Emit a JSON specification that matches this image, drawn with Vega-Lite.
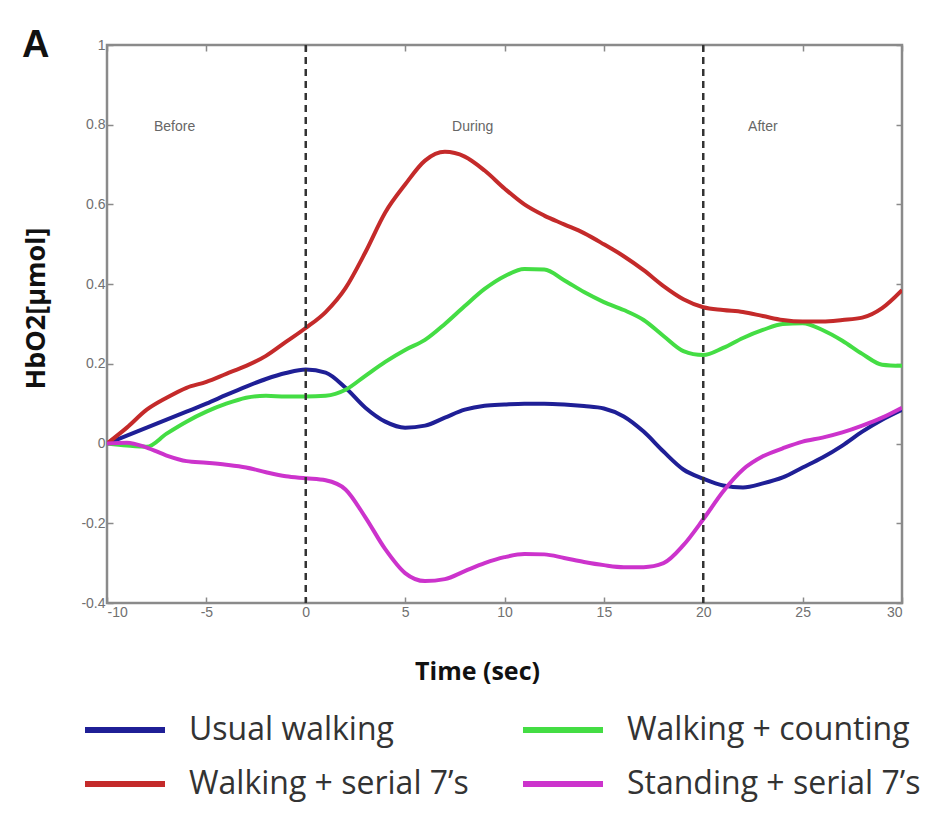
{
  "$schema": "https://vega.github.io/schema/vega-lite/v6.json",
  "width": 795,
  "height": 558,
  "autosize": {"type": "none"},
  "padding": {"left": 107, "top": 45, "right": 28, "bottom": 214},
  "background": "white",
  "title": {"text": "A", "anchor": "start", "frame": "group", "fontSize": 38, "fontWeight": "bold", "font": "Liberation Sans", "color": "#111", "baseline": "alphabetic", "offset": 0, "dx": -85, "dy": 57},
  "config": {
    "view": {"stroke": "#8a8a8a", "strokeWidth": 2.5},
    "axis": {"grid": false, "domain": false, "tickColor": "#8a8a8a", "tickWidth": 1.5, "tickSize": -6, "labelFont": "Liberation Sans", "labelFontSize": 14, "labelColor": "#707070", "titleFont": "Open Sans", "titleFontWeight": "bold", "titleColor": "#111", "labelExpr": "replace(format(datum.value, '~g'), '−', '-')"}
  },
  "datasets": {
    "curves": [
      {"t": -10, "v": 0, "s": "Usual walking"}, {"t": -9, "v": 0.02, "s": "Usual walking"}, {"t": -8, "v": 0.04, "s": "Usual walking"}, {"t": -7, "v": 0.06, "s": "Usual walking"}, {"t": -6, "v": 0.08, "s": "Usual walking"}, {"t": -5, "v": 0.1, "s": "Usual walking"}, {"t": -4, "v": 0.122, "s": "Usual walking"}, {"t": -3, "v": 0.143, "s": "Usual walking"}, {"t": -2, "v": 0.162, "s": "Usual walking"}, {"t": -1, "v": 0.177, "s": "Usual walking"}, {"t": 0, "v": 0.186, "s": "Usual walking"}, {"t": 1, "v": 0.178, "s": "Usual walking"}, {"t": 2, "v": 0.14, "s": "Usual walking"}, {"t": 3, "v": 0.09, "s": "Usual walking"}, {"t": 4, "v": 0.055, "s": "Usual walking"}, {"t": 5, "v": 0.04, "s": "Usual walking"}, {"t": 6, "v": 0.045, "s": "Usual walking"}, {"t": 7, "v": 0.065, "s": "Usual walking"}, {"t": 8, "v": 0.085, "s": "Usual walking"}, {"t": 9, "v": 0.095, "s": "Usual walking"}, {"t": 10, "v": 0.098, "s": "Usual walking"}, {"t": 11, "v": 0.1, "s": "Usual walking"}, {"t": 12, "v": 0.1, "s": "Usual walking"}, {"t": 13, "v": 0.098, "s": "Usual walking"}, {"t": 14, "v": 0.094, "s": "Usual walking"}, {"t": 15, "v": 0.088, "s": "Usual walking"}, {"t": 16, "v": 0.068, "s": "Usual walking"}, {"t": 17, "v": 0.03, "s": "Usual walking"}, {"t": 18, "v": -0.02, "s": "Usual walking"}, {"t": 19, "v": -0.065, "s": "Usual walking"}, {"t": 20, "v": -0.088, "s": "Usual walking"}, {"t": 21, "v": -0.105, "s": "Usual walking"}, {"t": 22, "v": -0.11, "s": "Usual walking"}, {"t": 23, "v": -0.1, "s": "Usual walking"}, {"t": 24, "v": -0.085, "s": "Usual walking"}, {"t": 25, "v": -0.06, "s": "Usual walking"}, {"t": 26, "v": -0.035, "s": "Usual walking"}, {"t": 27, "v": -0.005, "s": "Usual walking"}, {"t": 28, "v": 0.03, "s": "Usual walking"}, {"t": 29, "v": 0.06, "s": "Usual walking"}, {"t": 30, "v": 0.085, "s": "Usual walking"},
      {"t": -10, "v": 0, "s": "Walking + counting"}, {"t": -9, "v": -0.005, "s": "Walking + counting"}, {"t": -8, "v": -0.008, "s": "Walking + counting"}, {"t": -7, "v": 0.025, "s": "Walking + counting"}, {"t": -6, "v": 0.055, "s": "Walking + counting"}, {"t": -5, "v": 0.08, "s": "Walking + counting"}, {"t": -4, "v": 0.1, "s": "Walking + counting"}, {"t": -3, "v": 0.115, "s": "Walking + counting"}, {"t": -2, "v": 0.12, "s": "Walking + counting"}, {"t": -1, "v": 0.118, "s": "Walking + counting"}, {"t": 0, "v": 0.118, "s": "Walking + counting"}, {"t": 1, "v": 0.12, "s": "Walking + counting"}, {"t": 2, "v": 0.135, "s": "Walking + counting"}, {"t": 3, "v": 0.17, "s": "Walking + counting"}, {"t": 4, "v": 0.205, "s": "Walking + counting"}, {"t": 5, "v": 0.235, "s": "Walking + counting"}, {"t": 6, "v": 0.26, "s": "Walking + counting"}, {"t": 7, "v": 0.3, "s": "Walking + counting"}, {"t": 8, "v": 0.345, "s": "Walking + counting"}, {"t": 9, "v": 0.388, "s": "Walking + counting"}, {"t": 10, "v": 0.42, "s": "Walking + counting"}, {"t": 11, "v": 0.438, "s": "Walking + counting"}, {"t": 12, "v": 0.437, "s": "Walking + counting"}, {"t": 13, "v": 0.41, "s": "Walking + counting"}, {"t": 14, "v": 0.38, "s": "Walking + counting"}, {"t": 15, "v": 0.355, "s": "Walking + counting"}, {"t": 16, "v": 0.335, "s": "Walking + counting"}, {"t": 17, "v": 0.31, "s": "Walking + counting"}, {"t": 18, "v": 0.27, "s": "Walking + counting"}, {"t": 19, "v": 0.232, "s": "Walking + counting"}, {"t": 20, "v": 0.222, "s": "Walking + counting"}, {"t": 21, "v": 0.24, "s": "Walking + counting"}, {"t": 22, "v": 0.265, "s": "Walking + counting"}, {"t": 23, "v": 0.285, "s": "Walking + counting"}, {"t": 24, "v": 0.3, "s": "Walking + counting"}, {"t": 25, "v": 0.302, "s": "Walking + counting"}, {"t": 26, "v": 0.285, "s": "Walking + counting"}, {"t": 27, "v": 0.258, "s": "Walking + counting"}, {"t": 28, "v": 0.225, "s": "Walking + counting"}, {"t": 29, "v": 0.198, "s": "Walking + counting"}, {"t": 30, "v": 0.195, "s": "Walking + counting"},
      {"t": -10, "v": 0, "s": "Walking + serial 7’s"}, {"t": -9, "v": 0.04, "s": "Walking + serial 7’s"}, {"t": -8, "v": 0.085, "s": "Walking + serial 7’s"}, {"t": -7, "v": 0.115, "s": "Walking + serial 7’s"}, {"t": -6, "v": 0.14, "s": "Walking + serial 7’s"}, {"t": -5, "v": 0.155, "s": "Walking + serial 7’s"}, {"t": -4, "v": 0.175, "s": "Walking + serial 7’s"}, {"t": -3, "v": 0.195, "s": "Walking + serial 7’s"}, {"t": -2, "v": 0.22, "s": "Walking + serial 7’s"}, {"t": -1, "v": 0.255, "s": "Walking + serial 7’s"}, {"t": 0, "v": 0.29, "s": "Walking + serial 7’s"}, {"t": 1, "v": 0.33, "s": "Walking + serial 7’s"}, {"t": 2, "v": 0.39, "s": "Walking + serial 7’s"}, {"t": 3, "v": 0.48, "s": "Walking + serial 7’s"}, {"t": 4, "v": 0.58, "s": "Walking + serial 7’s"}, {"t": 5, "v": 0.65, "s": "Walking + serial 7’s"}, {"t": 6, "v": 0.71, "s": "Walking + serial 7’s"}, {"t": 7, "v": 0.732, "s": "Walking + serial 7’s"}, {"t": 8, "v": 0.72, "s": "Walking + serial 7’s"}, {"t": 9, "v": 0.685, "s": "Walking + serial 7’s"}, {"t": 10, "v": 0.64, "s": "Walking + serial 7’s"}, {"t": 11, "v": 0.6, "s": "Walking + serial 7’s"}, {"t": 12, "v": 0.572, "s": "Walking + serial 7’s"}, {"t": 13, "v": 0.55, "s": "Walking + serial 7’s"}, {"t": 14, "v": 0.528, "s": "Walking + serial 7’s"}, {"t": 15, "v": 0.5, "s": "Walking + serial 7’s"}, {"t": 16, "v": 0.47, "s": "Walking + serial 7’s"}, {"t": 17, "v": 0.435, "s": "Walking + serial 7’s"}, {"t": 18, "v": 0.395, "s": "Walking + serial 7’s"}, {"t": 19, "v": 0.362, "s": "Walking + serial 7’s"}, {"t": 20, "v": 0.342, "s": "Walking + serial 7’s"}, {"t": 21, "v": 0.335, "s": "Walking + serial 7’s"}, {"t": 22, "v": 0.33, "s": "Walking + serial 7’s"}, {"t": 23, "v": 0.32, "s": "Walking + serial 7’s"}, {"t": 24, "v": 0.31, "s": "Walking + serial 7’s"}, {"t": 25, "v": 0.306, "s": "Walking + serial 7’s"}, {"t": 26, "v": 0.306, "s": "Walking + serial 7’s"}, {"t": 27, "v": 0.31, "s": "Walking + serial 7’s"}, {"t": 28, "v": 0.316, "s": "Walking + serial 7’s"}, {"t": 29, "v": 0.34, "s": "Walking + serial 7’s"}, {"t": 30, "v": 0.385, "s": "Walking + serial 7’s"},
      {"t": -10, "v": 0, "s": "Standing + serial 7’s"}, {"t": -9, "v": 0.002, "s": "Standing + serial 7’s"}, {"t": -8, "v": -0.01, "s": "Standing + serial 7’s"}, {"t": -7, "v": -0.03, "s": "Standing + serial 7’s"}, {"t": -6, "v": -0.044, "s": "Standing + serial 7’s"}, {"t": -5, "v": -0.048, "s": "Standing + serial 7’s"}, {"t": -4, "v": -0.053, "s": "Standing + serial 7’s"}, {"t": -3, "v": -0.06, "s": "Standing + serial 7’s"}, {"t": -2, "v": -0.072, "s": "Standing + serial 7’s"}, {"t": -1, "v": -0.082, "s": "Standing + serial 7’s"}, {"t": 0, "v": -0.087, "s": "Standing + serial 7’s"}, {"t": 1, "v": -0.092, "s": "Standing + serial 7’s"}, {"t": 2, "v": -0.115, "s": "Standing + serial 7’s"}, {"t": 3, "v": -0.185, "s": "Standing + serial 7’s"}, {"t": 4, "v": -0.265, "s": "Standing + serial 7’s"}, {"t": 5, "v": -0.325, "s": "Standing + serial 7’s"}, {"t": 6, "v": -0.345, "s": "Standing + serial 7’s"}, {"t": 7, "v": -0.34, "s": "Standing + serial 7’s"}, {"t": 8, "v": -0.32, "s": "Standing + serial 7’s"}, {"t": 9, "v": -0.3, "s": "Standing + serial 7’s"}, {"t": 10, "v": -0.285, "s": "Standing + serial 7’s"}, {"t": 11, "v": -0.277, "s": "Standing + serial 7’s"}, {"t": 12, "v": -0.278, "s": "Standing + serial 7’s"}, {"t": 13, "v": -0.287, "s": "Standing + serial 7’s"}, {"t": 14, "v": -0.297, "s": "Standing + serial 7’s"}, {"t": 15, "v": -0.305, "s": "Standing + serial 7’s"}, {"t": 16, "v": -0.31, "s": "Standing + serial 7’s"}, {"t": 17, "v": -0.31, "s": "Standing + serial 7’s"}, {"t": 18, "v": -0.3, "s": "Standing + serial 7’s"}, {"t": 19, "v": -0.255, "s": "Standing + serial 7’s"}, {"t": 20, "v": -0.19, "s": "Standing + serial 7’s"}, {"t": 21, "v": -0.12, "s": "Standing + serial 7’s"}, {"t": 22, "v": -0.065, "s": "Standing + serial 7’s"}, {"t": 23, "v": -0.032, "s": "Standing + serial 7’s"}, {"t": 24, "v": -0.012, "s": "Standing + serial 7’s"}, {"t": 25, "v": 0.005, "s": "Standing + serial 7’s"}, {"t": 26, "v": 0.015, "s": "Standing + serial 7’s"}, {"t": 27, "v": 0.028, "s": "Standing + serial 7’s"}, {"t": 28, "v": 0.045, "s": "Standing + serial 7’s"}, {"t": 29, "v": 0.065, "s": "Standing + serial 7’s"}, {"t": 30, "v": 0.09, "s": "Standing + serial 7’s"}
    ],
    "phases": [
      {"t": -6.6, "v": 0.795, "label": "Before"},
      {"t": 8.4, "v": 0.795, "label": "During"},
      {"t": 23.0, "v": 0.795, "label": "After"}
    ],
    "bounds": [{"t": 0}, {"t": 20}]
  },
  "resolve": {"axis": {"x": "independent", "y": "independent"}},
  "layer": [
    {
      "data": {"name": "curves"},
      "mark": {"type": "line", "interpolate": "monotone", "strokeWidth": 4, "clip": true},
      "encoding": {
        "x": {"field": "t", "type": "quantitative", "scale": {"domain": [-10, 30], "nice": false, "zero": false},
          "axis": {"orient": "bottom", "values": [-10, -5, 0, 5, 10, 15, 20, 25, 30], "title": "Time (sec)", "titleFontSize": 25, "titleX": 370, "titleY": 68, "titleBaseline": "middle", "labelPadding": 8}},
        "y": {"field": "v", "type": "quantitative", "scale": {"domain": [-0.4, 1], "nice": false, "zero": false},
          "axis": {"orient": "left", "values": [-0.4, -0.2, 0, 0.2, 0.4, 0.6, 0.8, 1], "title": "HbO2[µmol]", "titleFontSize": 27, "titleX": -71, "titleY": 263, "titleBaseline": "middle", "titleAngle": -90, "labelPadding": 8}},
        "color": {"field": "s", "type": "nominal",
          "scale": {"domain": ["Usual walking", "Walking + serial 7’s", "Walking + counting", "Standing + serial 7’s"], "range": ["#1f1f96", "#c42a2a", "#44dd44", "#cc33cc"]},
          "legend": {"title": null, "orient": "none", "legendX": -5, "legendY": 662, "columns": 2, "columnPadding": 42, "rowPadding": 15, "symbolType": "M-2,0L2,0", "symbolSize": 1600, "symbolStrokeWidth": 6, "labelFont": "Open Sans", "labelFontSize": 32, "labelColor": "#333", "labelOffset": 41, "labelLimit": 400, "padding": 0}}
      }
    },
    {
      "data": {"name": "bounds"},
      "mark": {"type": "rule", "color": "#333", "strokeWidth": 2.5, "strokeDash": [7, 5]},
      "encoding": {
        "x": {"field": "t", "type": "quantitative", "axis": {"orient": "top", "values": [-10, -5, 0, 5, 10, 15, 20, 25, 30], "labels": false, "title": null}}
      }
    },
    {
      "data": {"name": "phases"},
      "mark": {"type": "text", "font": "Liberation Sans", "fontSize": 14, "color": "#666"},
      "encoding": {
        "x": {"field": "t", "type": "quantitative", "axis": null},
        "y": {"field": "v", "type": "quantitative", "axis": {"orient": "right", "values": [-0.4, -0.2, 0, 0.2, 0.4, 0.6, 0.8, 1], "labels": false, "title": null}},
        "text": {"field": "label"}
      }
    }
  ]
}
